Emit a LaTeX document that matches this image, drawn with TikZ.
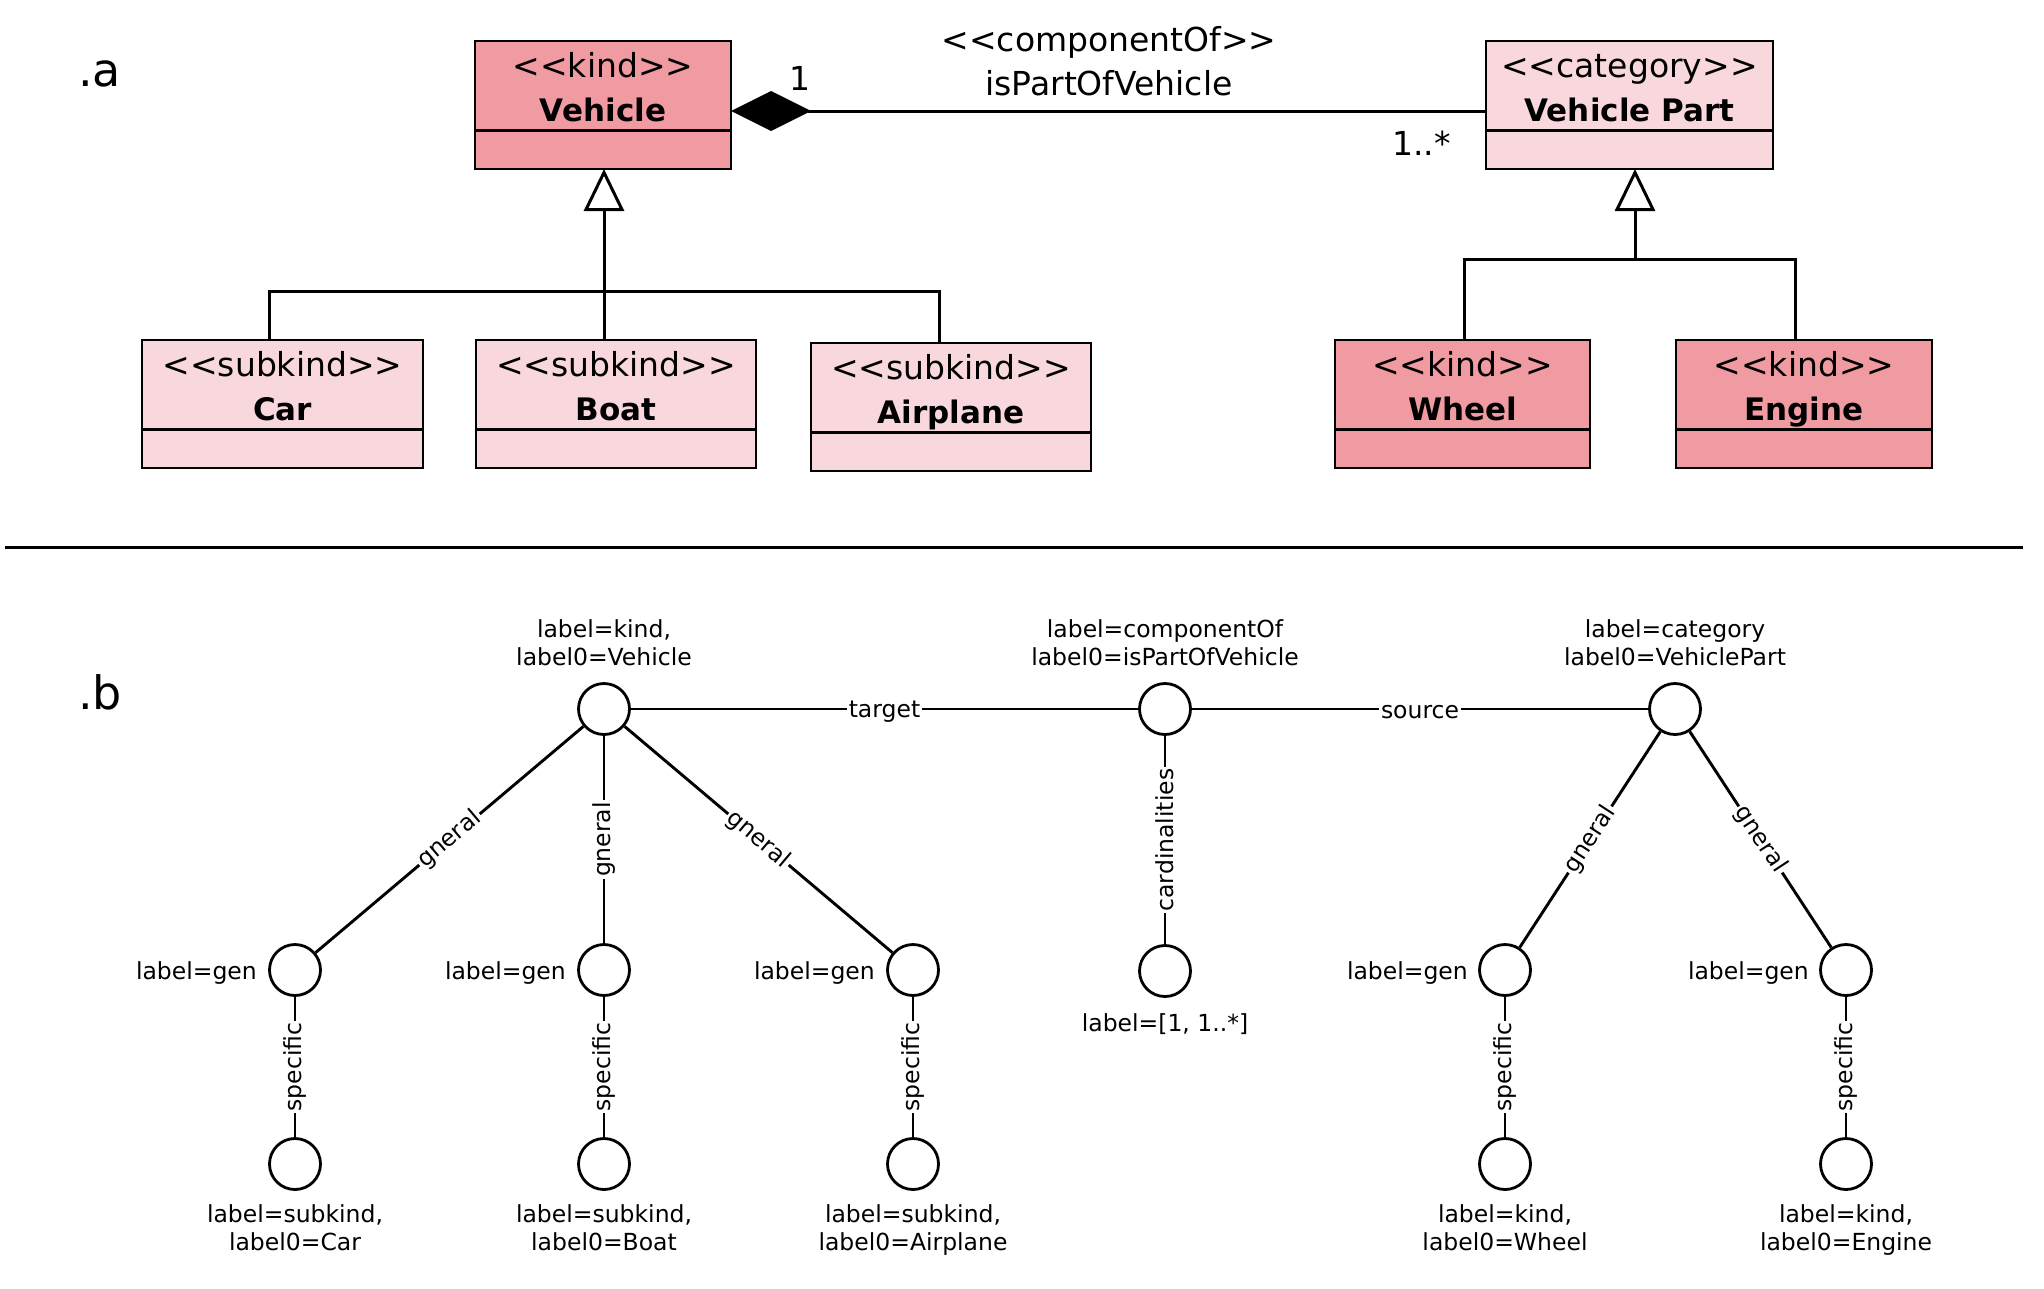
\documentclass[tikz,border=0pt]{standalone}
\usepackage{fontspec}
\setmainfont{DejaVu Sans}
\usetikzlibrary{arrows.meta,calc}
\definecolor{kindfill}{RGB}{240,154,162}
\definecolor{lightfill}{RGB}{248,216,221}
\newcommand\umlfont{\fontsize{33}{44}\selectfont}
\newcommand\umlbold{\fontsize{31}{44}\selectfont\bfseries}
\newcommand\lblfont{\fontsize{23.5}{28}\selectfont}
\newcommand\secfont{\fontsize{46}{55}\selectfont}
\newcommand\guilL{<\kern0pt<}
\newcommand\guilR{>\kern0pt>}
\tikzset{
  umlbox/.style={draw, line width=2.8pt, inner sep=0pt, outer sep=0pt},
  umlline/.style={line width=3pt},
  umltext/.style={inner sep=0pt, text=black},
  gnode/.style={circle, draw, line width=2.8pt, minimum size=51pt, inner sep=0pt, fill=white},
  glbl/.style={inner sep=0pt, font=\lblfont, align=center},
  elbl/.style={fill=white, inner sep=2pt, font=\lblfont},
  edgeline/.style={line width=2.9pt},
}
\newcommand\umlclass[8]{%
  \node[umlbox, fill=#2, anchor=north west, minimum width={#5pt-#3pt}, minimum height={#6pt-#4pt}] (#1) at (#3,#4) {};
  \draw[umlline] ([yshift=-89pt]#1.north west) -- ([yshift=-89pt]#1.north east);
  \node[umltext, anchor=base] (#1-st) at ([yshift=-36pt]#1.north) {\umlfont #7};
  \node[umltext, anchor=base] (#1-nm) at ([yshift=-80pt]#1.north) {\umlbold #8};
}
\begin{document}
\begin{tikzpicture}[x=1pt,y=-1pt]
\useasboundingbox (0,0) rectangle (2044,1288);
% ---------- part a ----------
\node[umltext, anchor=base west, font=\secfont] (la) at (78,86) {.a};
\umlclass{vehicle}{kindfill}{475}{41}{731}{169}{\guilL kind\guilR}{Vehicle}
\umlclass{vpart}{lightfill}{1486}{41}{1773}{169}{\guilL category\guilR}{Vehicle Part}
\umlclass{car}{lightfill}{142}{340}{423}{468}{\guilL subkind\guilR}{Car}
\umlclass{boat}{lightfill}{476}{340}{756}{468}{\guilL subkind\guilR}{Boat}
\umlclass{airplane}{lightfill}{811}{343}{1091}{471}{\guilL subkind\guilR}{Airplane}
\umlclass{wheel}{kindfill}{1335}{340}{1590}{468}{\guilL kind\guilR}{Wheel}
\umlclass{engine}{kindfill}{1676}{340}{1932}{468}{\guilL kind\guilR}{Engine}

% composition
\draw[umlline, {Diamond[width=40pt,length=80pt]}-] ([yshift=-6pt]vehicle.east) -- ([yshift=-6pt]vpart.west);
\node[umltext, anchor=base, font=\umlfont] (as1) at (1109,51) {\guilL componentOf\guilR};
\node[umltext, anchor=base, font=\umlfont] (as2) at (1109,95) {isPartOfVehicle};
\node[umltext, anchor=base, font=\umlfont] (m1) at (800,90) {1};
\node[umltext, anchor=base east, font=\umlfont] (m2) at (1451,155) {1..*};

% generalizations (vehicle)
\coordinate (vj) at (604,291);
\coordinate (cj) at (269,291);
\coordinate (aj) at (939,291);
\draw[umlline] (car.north -| cj) -- (cj) -- (aj) -- (airplane.north -| aj);
\draw[umlline] (boat.north -| vj) -- (vj);
\draw[umlline, -{Triangle[open, width=40pt, length=42pt]}] (vj) -- (vehicle.south -| vj);

% generalizations (vehicle part)
\coordinate (pj) at (1635,259);
\coordinate (wj) at (1464,259);
\coordinate (ej) at (1795,259);
\draw[umlline] (wheel.north -| wj) -- (wj) -- (ej) -- (engine.north -| ej);
\draw[umlline, -{Triangle[open, width=40pt, length=42pt]}] (pj) -- (vpart.south -| pj);

% divider
\coordinate (dl) at (5,547);
\coordinate (dr) at (2023,547);
\draw[line width=3pt] (dl) -- (dr);

% ---------- part b ----------
\node[umltext, anchor=base west, font=\secfont] (lb) at (78,709) {.b};

\node[gnode] (v) at (604,709) {};
\node[gnode] (c) at (1165,709) {};
\node[gnode] (p) at (1675,709) {};
\node[gnode] (k) at (1165,971) {};
\node[gnode] (g1) at (295,970) {};
\node[gnode] (g2) at (604,970) {};
\node[gnode] (g3) at (913,970) {};
\node[gnode] (g4) at (1505,970) {};
\node[gnode] (g5) at (1846,970) {};
\node[gnode] (s1) at (295,1164) {};
\node[gnode] (s2) at (604,1164) {};
\node[gnode] (s3) at (913,1164) {};
\node[gnode] (s4) at (1505,1164) {};
\node[gnode] (s5) at (1846,1164) {};

% node labels (base anchor = baseline of the last line)
\node[glbl, anchor=base] (vt) at (604,665) {label=kind,\\label0=Vehicle};
\node[glbl, anchor=base] (ct) at (1165,665) {label=componentOf\\label0=isPartOfVehicle};
\node[glbl, anchor=base] (pt) at (1675,665) {label=category\\label0=VehiclePart};
\node[glbl, anchor=base] (kt) at (1165,1031) {label=[1, 1..*]};
\node[glbl, anchor=base east] (g1t) at (257,979) {label=gen};
\node[glbl, anchor=base east] (g2t) at (566,979) {label=gen};
\node[glbl, anchor=base east] (g3t) at (875,979) {label=gen};
\node[glbl, anchor=base east] (g4t) at (1468,979) {label=gen};
\node[glbl, anchor=base east] (g5t) at (1809,979) {label=gen};
\node[glbl, anchor=base] (s1t) at (295,1250) {label=subkind,\\label0=Car};
\node[glbl, anchor=base] (s2t) at (604,1250) {label=subkind,\\label0=Boat};
\node[glbl, anchor=base] (s3t) at (913,1250) {label=subkind,\\label0=Airplane};
\node[glbl, anchor=base] (s4t) at (1505,1250) {label=kind,\\label0=Wheel};
\node[glbl, anchor=base] (s5t) at (1846,1250) {label=kind,\\label0=Engine};

% edges
\draw[edgeline] (v) -- node[elbl, yshift=-3pt] {target} (c);
\draw[edgeline] (c) -- node[elbl, yshift=-3pt] {source} (p);
\draw[edgeline] (c) -- node[elbl, rotate=90] {cardinalities} (k);
\draw[edgeline] (v) -- node[elbl, sloped] {gneral} (g1);
\draw[edgeline] (v) -- node[elbl, rotate=90] {gneral} (g2);
\draw[edgeline] (v) -- node[elbl, sloped] {gneral} (g3);
\draw[edgeline] (p) -- node[elbl, sloped] {gneral} (g4);
\draw[edgeline] (p) -- node[elbl, sloped] {gneral} (g5);
\draw[edgeline] (g1) -- node[elbl, rotate=90] {specific} (s1);
\draw[edgeline] (g2) -- node[elbl, rotate=90] {specific} (s2);
\draw[edgeline] (g3) -- node[elbl, rotate=90] {specific} (s3);
\draw[edgeline] (g4) -- node[elbl, rotate=90] {specific} (s4);
\draw[edgeline] (g5) -- node[elbl, rotate=90] {specific} (s5);
\end{tikzpicture}
\end{document}
